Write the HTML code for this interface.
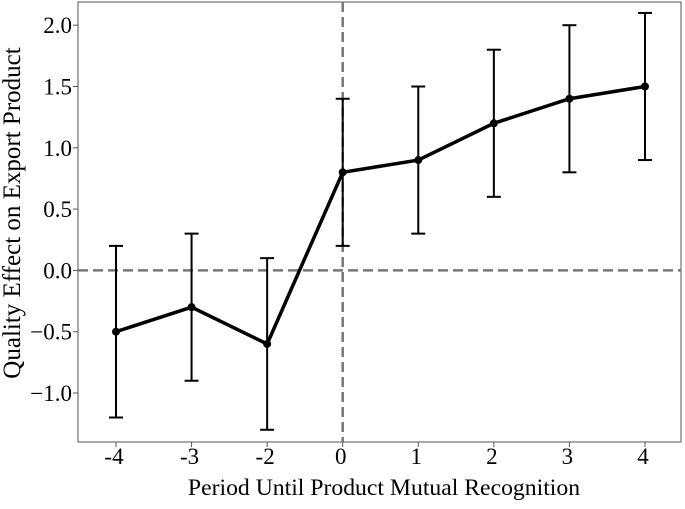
<!DOCTYPE html>
<html><head><meta charset="utf-8"><style>
html,body{margin:0;padding:0;background:#fff;}
svg text{font-family:"Liberation Serif",serif;fill:#000;}
</style></head><body>
<svg id="chart" width="685" height="504" xmlns="http://www.w3.org/2000/svg">
<rect x="78" y="2" width="603" height="440" fill="none" stroke="#555" stroke-width="1"/>
<g id="ticks"></g>
<g id="marks"></g>
<text x="384" y="495" font-size="23.7" text-anchor="middle">Period Until Product Mutual Recognition</text>
<text transform="translate(20,213) rotate(-90)" font-size="25" text-anchor="middle">Quality Effect on Export Product</text>
</svg>
<script>
const categories = ["-4","-3","-2","0","1","2","3","4"];
const means = [-0.5,-0.3,-0.6,0.8,0.9,1.2,1.4,1.5];
const lower = [-1.2,-0.9,-1.3,0.2,0.3,0.6,0.8,0.9];
const upper = [0.2,0.3,0.1,1.4,1.5,1.8,2.0,2.1];
const yTicks = [-1.0,-0.5,0.0,0.5,1.0,1.5,2.0];

const NS="http://www.w3.org/2000/svg";
function xs(i){return 116+i*75.57;}
function ys(v){return 270.4-v*122.6;}
function mk(tag,attrs,parent){const e=document.createElementNS(NS,tag);for(const k in attrs)e.setAttribute(k,attrs[k]);parent.appendChild(e);return e;}
const T=document.getElementById('ticks'), M=document.getElementById('marks');
yTicks.forEach(v=>{
  const l=mk('line',{x1:73,x2:78,y1:ys(v),y2:ys(v),stroke:'#555'},T);
  
  
  const t=mk('text',{x:72,y:ys(v)+8,'font-size':23,'text-anchor':'end'},T);
  t.textContent=(v<0?'\u2212':'')+Math.abs(v).toFixed(1);
  
  
});
categories.forEach((c,i)=>{
  const l=mk('line',{x1:xs(i),x2:xs(i),y1:442,y2:447,stroke:'#555'},T);
  
  
  const t=mk('text',{x:xs(i)-2,y:464,'font-size':23,'text-anchor':'middle'},T);
  t.textContent=c;
  
  
});
const h=mk('line',{x1:78,x2:681,y1:ys(0),y2:ys(0),stroke:'#777','stroke-width':2.5,'stroke-dasharray':'10,5'},M);


const vi=categories.indexOf("0");
const v=mk('line',{x1:xs(vi),x2:xs(vi),y1:2,y2:442,stroke:'#777','stroke-width':2.5,'stroke-dasharray':'10,5'},M);


categories.forEach((c,i)=>{
  const g=mk('g',{stroke:'#000','stroke-width':2},M);
  
  
  mk('line',{x1:xs(i),x2:xs(i),y1:ys(lower[i]),y2:ys(upper[i])},g);
  mk('line',{x1:xs(i)-7,x2:xs(i)+7,y1:ys(lower[i]),y2:ys(lower[i])},g);
  mk('line',{x1:xs(i)-7,x2:xs(i)+7,y1:ys(upper[i]),y2:ys(upper[i])},g);
});
const p=mk('polyline',{points:means.map((m,i)=>xs(i)+','+ys(m)).join(' '),fill:'none',stroke:'#000','stroke-width':3.5},M);


means.forEach((m,i)=>{
  const c=mk('circle',{cx:xs(i),cy:ys(m),r:4,fill:'#000'},M);
  
  
});
</script>
</body></html>
